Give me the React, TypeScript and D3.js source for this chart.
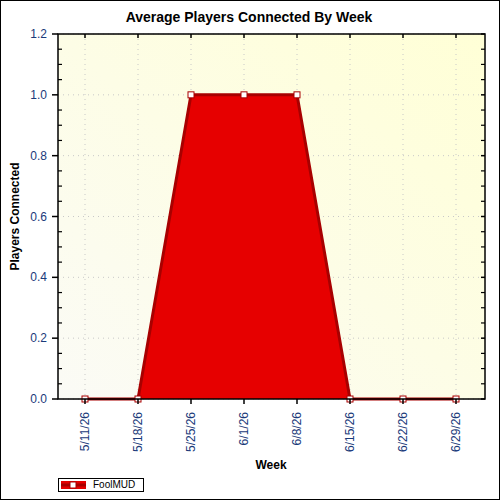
import React from "react";
import * as d3 from "d3";

const weeks = ["5/11/26", "5/18/26", "5/25/26", "6/1/26", "6/8/26", "6/15/26", "6/22/26", "6/29/26"];
const players = [0, 0, 1, 1, 1, 0, 0, 0];
const yTicks = [0, 0.2, 0.4, 0.6, 0.8, 1.0, 1.2];
const seriesName = "FoolMUD";
const title = "Average Players Connected By Week";
const xTitle = "Week";
const yTitle = "Players Connected";

export default function App() {
  const W = 500, H = 500;
  const left = 58, right = 485, top = 34, bottom = 399;
  const x = d3.scalePoint<string>().domain(weeks).range([85, 456]);
  const y = d3.scaleLinear().domain([0, 1.2]).range([bottom, top]);
  const data = weeks.map((w, i) => ({ w, v: players[i] }));
  const area = d3.area<{ w: string; v: number }>().x(d => x(d.w)!).y0(y(0)).y1(d => y(d.v));
  const line = d3.line<{ w: string; v: number }>().x(d => x(d.w)!).y(d => y(d.v));
  const minor = d3.range(0, 1.2001, 0.05).filter(v => Math.abs(Math.round(v * 5) - v * 5) > 1e-6);
  const font = "Arial, 'Liberation Sans', sans-serif";
  const tickColor = "#1a3a7a";
  return (
    <svg width={W} height={H} style={{ position: "absolute", left: 0, top: 0 }} fontFamily={font}>
      <defs>
        <linearGradient id="bg" x1="0" y1="1" x2="1" y2="0">
          <stop offset="0" stopColor="#fbfbf6" />
          <stop offset="1" stopColor="#ffffd6" />
        </linearGradient>
      </defs>
      <rect x={0} y={0} width={W} height={H} fill="#ffffff" />
      <rect x={0.5} y={0.5} width={W - 1} height={H - 1} fill="none" stroke="#000" />
      <text x={249} y={22} textAnchor="middle" fontWeight="bold" fontSize={14} fill="#000">{title}</text>
      <rect x={left} y={top} width={right - left} height={bottom - top} fill="url(#bg)" />
      {weeks.map(w => (
        <line key={w} x1={x(w)} x2={x(w)} y1={top} y2={bottom} stroke="#c8c8c8" strokeDasharray="1,4" />
      ))}
      {yTicks.map(v => (
        <line key={v} x1={left} x2={right} y1={y(v)} y2={y(v)} stroke="#c8c8c8" strokeDasharray="1,4" />
      ))}
      <path d={area(data)!} fill="#e60000" />
      <path d={line(data)!} fill="none" stroke="#a80000" strokeWidth={3} strokeLinejoin="round" />
      {data.map(d => (
        <rect key={d.w} x={x(d.w)! - 3} y={y(d.v) - 3} width={6} height={6} fill="#fff" stroke="#a80000" strokeWidth={1} />
      ))}
      <rect x={left} y={top} width={right - left} height={bottom - top} fill="none" stroke="#000" strokeWidth={1.5} />
      {yTicks.map(v => (
        <g key={v}>
          <line x1={left - 6} x2={left} y1={y(v)} y2={y(v)} stroke="#000" strokeWidth={1.5} />
          <line x1={right - 4} x2={right} y1={y(v)} y2={y(v)} stroke="#000" strokeWidth={1.5} />
          <text x={left - 11} y={y(v) + 4} textAnchor="end" fontSize={12} fill={tickColor}>{v.toFixed(1)}</text>
        </g>
      ))}
      {minor.map(v => (
        <g key={v}>
          <line x1={left} x2={left + 4} y1={y(v)} y2={y(v)} stroke="#000" strokeWidth={1.2} />
          <line x1={right - 4} x2={right} y1={y(v)} y2={y(v)} stroke="#000" strokeWidth={1.2} />
        </g>
      ))}
      {weeks.map(w => (
        <g key={w}>
          <line x1={x(w)} x2={x(w)} y1={bottom} y2={bottom + 5} stroke="#000" strokeWidth={1.5} />
          <line x1={x(w)} x2={x(w)} y1={top} y2={top + 4} stroke="#000" strokeWidth={1.5} />
          <text transform={`translate(${x(w)! + 4},${bottom + 13}) rotate(-90)`} textAnchor="end" fontSize={12} fill={tickColor}>{w}</text>
        </g>
      ))}
      <text x={271} y={469} textAnchor="middle" fontWeight="bold" fontSize={12} fill="#000">{xTitle}</text>
      <text transform={`translate(19,${(top + bottom) / 2}) rotate(-90)`} textAnchor="middle" fontWeight="bold" fontSize={12} fill="#000">{yTitle}</text>
      <rect x={58.5} y={478.5} width={85} height={13} fill="#fff" stroke="#000" />
      <rect x={61} y={481} width={25} height={8} fill="#e60000" />
      <line x1={61} x2={86} y1={485} y2={485} stroke="#a80000" strokeWidth={3} />
      <rect x={70} y={482} width={6} height={6} fill="#fff" stroke="#a80000" />
      <text x={93} y={488} fontSize={10} fill="#000">{seriesName}</text>
    </svg>
  );
}
